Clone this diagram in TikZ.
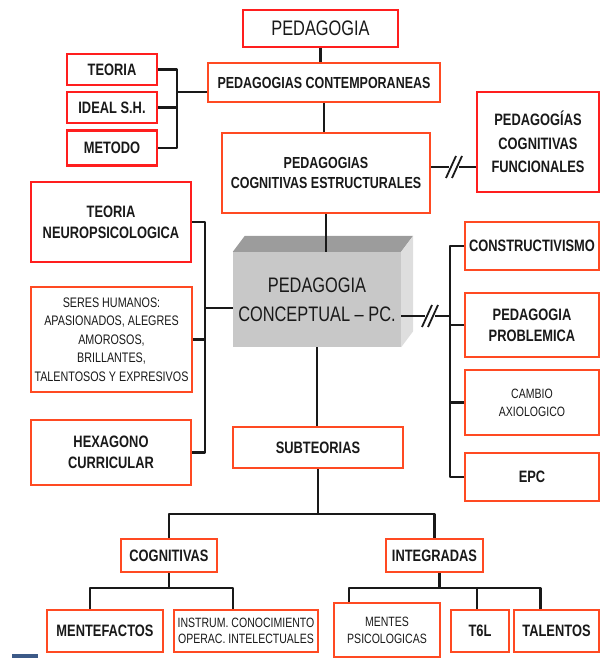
\documentclass[tikz,border=0pt]{standalone}
\usepackage{fontspec}
\setmainfont{Liberation Sans}[FakeStretch=0.78]
\usetikzlibrary{calc}
\definecolor{boxred}{HTML}{FF1E1E}
\definecolor{boxorange}{HTML}{FF4A22}
\definecolor{cubefront}{HTML}{C8C8C8}
\definecolor{cubetop}{HTML}{9C9C9C}
\definecolor{cubeside}{HTML}{DEDEDE}
\definecolor{markblue}{HTML}{3C5A88}

\tikzset{
 box/.style={draw=boxorange, line width=2.3pt, fill=white, align=center, inner sep=1pt,
   text=black!90, font=\fontsize{16.5}{20}\selectfont\bfseries},
 redbox/.style={box, draw=boxred},
 thin/.style={font=\fontsize{13.5}{18}\selectfont},
 link/.style={black!90, line width=2.4pt, line join=round},
 slash/.style={black!90, line width=1.8pt},
}

\begin{document}
\begin{tikzpicture}[x=1pt, y=-1pt]
\useasboundingbox (0,0) rectangle (608,658);

\node[redbox, minimum width=155, minimum height=37, font=\fontsize{21}{24}\selectfont] (ped) at (320.5,28.5) {PEDAGOGIA};
\node[box, minimum width=232, minimum height=39, font=\fontsize{16}{20}\selectfont\bfseries] (contemp) at (324,82.5) {PEDAGOGIAS CONTEMPORANEAS};
\node[redbox, minimum width=90, minimum height=31] (teoria) at (112,69.5) {TEORIA};
\node[redbox, minimum width=90, minimum height=31] (ideal) at (112,107.5) {IDEAL S.H.};
\node[redbox, minimum width=90, minimum height=35] (metodo) at (112,148) {METODO};
\node[box, minimum width=208, minimum height=80, font=\fontsize{16}{20}\selectfont\bfseries] (pce) at (326,173) {PEDAGOGIAS\\COGNITIVAS ESTRUCTURALES};
\node[redbox, minimum width=122, minimum height=100, font=\fontsize{16.5}{23.5}\selectfont\bfseries] (pcf) at (538,142) {PEDAGOGÍAS\\COGNITIVAS\\FUNCIONALES};

\node[redbox, minimum width=160, minimum height=80, font=\fontsize{16.5}{21}\selectfont\bfseries] (neuro) at (111,222) {TEORIA\\NEUROPSICOLOGICA};
\node[box, minimum width=161, minimum height=105, font=\fontsize{13.8}{18.5}\selectfont, inner sep=0pt] (seres) at (111.5,339.5) {SERES HUMANOS:\\APASIONADOS, ALEGRES\\AMOROSOS,\\BRILLANTES,\\TALENTOSOS Y EXPRESIVOS};
\node[box, minimum width=160, minimum height=65, font=\fontsize{16.5}{21}\selectfont\bfseries] (hexa) at (111,452.5) {HEXAGONO\\CURRICULAR};

\node[fill=cubefront, minimum width=168, minimum height=95, inner sep=0pt] (cube) at (317,299.5) {};
\fill[cubetop] (cube.north west) -- ++(12,-16) -- ($(cube.north east)+(12,-16)$) -- (cube.north east) -- cycle;
\fill[cubeside] (cube.north east) -- ++(12,-16) -- ($(cube.south east)+(12,-16)$) -- (cube.south east) -- cycle;
\node[align=center, text=black!90, font=\fontsize{21}{29}\selectfont] (cubetext) at (cube) {PEDAGOGIA\\CONCEPTUAL -- PC.};

\node[box, minimum width=134, minimum height=48] (cons) at (532,246) {CONSTRUCTIVISMO};
\node[box, minimum width=134, minimum height=64, font=\fontsize{16.5}{21}\selectfont\bfseries] (pp) at (532,325) {PEDAGOGIA\\PROBLEMICA};
\node[box, minimum width=134, minimum height=65, thin] (cambio) at (532,402.5) {CAMBIO\\AXIOLOGICO};
\node[box, minimum width=134, minimum height=48] (epc) at (532,477) {EPC};

\node[box, minimum width=170, minimum height=41] (sub) at (318,447.5) {SUBTEORIAS};
\node[box, minimum width=96, minimum height=33] (cog) at (169,555.5) {COGNITIVAS};
\node[box, minimum width=97, minimum height=33] (integ) at (434.5,555.5) {INTEGRADAS};

\node[box, minimum width=116, minimum height=42] (mente) at (105,631) {MENTEFACTOS};
\node[box, minimum width=144, minimum height=42, font=\fontsize{13.5}{16}\selectfont, inner sep=0pt] (instrum) at (246,631) {INSTRUM. CONOCIMIENTO\\OPERAC. INTELECTUALES};
\node[box, minimum width=106, minimum height=54, font=\fontsize{13.5}{17}\selectfont] (mentes) at (387,630) {MENTES\\PSICOLOGICAS};
\node[box, minimum width=58, minimum height=42] (t6l) at (480,631) {T6L};
\node[box, minimum width=85, minimum height=42] (talentos) at (556.5,631) {TALENTOS};

\coordinate (lb) at (177,92);
\coordinate (lbr) at (205,308);
\coordinate (rbr) at (450,316);
\coordinate (cutA) at (454,167);
\coordinate (cutB) at (430,316);

\draw[link] (ped.south) -- (ped.south |- contemp.north);
\draw[link] (contemp.south) -- (contemp.south |- pce.north);
\draw[link] (teoria.east) -| (lb) |- (metodo.east);
\draw[link] (ideal.east) -- (ideal.east -| lb);
\draw[link] (lb) -- (lb -| contemp.west);

\draw[link] (cutA -| pce.east) -- ([xshift=-5]cutA);
\draw[link] ([xshift=5]cutA) -- (cutA -| pcf.west);
\draw[slash] ([xshift=-3]cutA) ++(-5,11) -- ++(10,-22);
\draw[slash] ([xshift=3]cutA) ++(-5,11) -- ++(10,-22);

\draw[link] (pce.south) -- (pce.south |- cube.north);
\draw[link] (neuro.east) -| (lbr) |- (hexa.east);
\draw[link] (seres.east) -- (seres.east -| lbr);
\draw[link] (lbr) -- (lbr -| cube.west);

\draw[link] (cutB -| cube.east) -- ([xshift=-5]cutB);
\draw[link] ([xshift=5]cutB) -- (rbr);
\draw[slash] ([xshift=-3]cutB) ++(-5,11) -- ++(10,-22);
\draw[slash] ([xshift=3]cutB) ++(-5,11) -- ++(10,-22);
\draw[link] (cons.west) -| (rbr) |- (epc.west);
\draw[link] (pp.west) -- (pp.west -| rbr);
\draw[link] (cambio.west) -- (cambio.west -| rbr);

\draw[link] (cube.south) -- (cube.south |- sub.north);
\draw[link] (sub.south) -- ++(0,45) coordinate (sj);
\draw[link] (cog.north) |- (sj) -| (integ.north);
\draw[link] (cog.south) -- ++(0,15) coordinate (cj);
\draw[link] ([xshift=-15]mente.north) |- (cj) -| ([xshift=-13]instrum.north);
\draw[link] ([xshift=5]integ.south) -- ++(0,15) coordinate (ij);
\draw[link] ([xshift=-38]mentes.north) |- (ij) -| ([xshift=-3]t6l.north);
\draw[link] (ij) -| ([xshift=-16]talentos.north);

\fill[markblue] (12,654) rectangle (38,658);
\end{tikzpicture}
\end{document}
